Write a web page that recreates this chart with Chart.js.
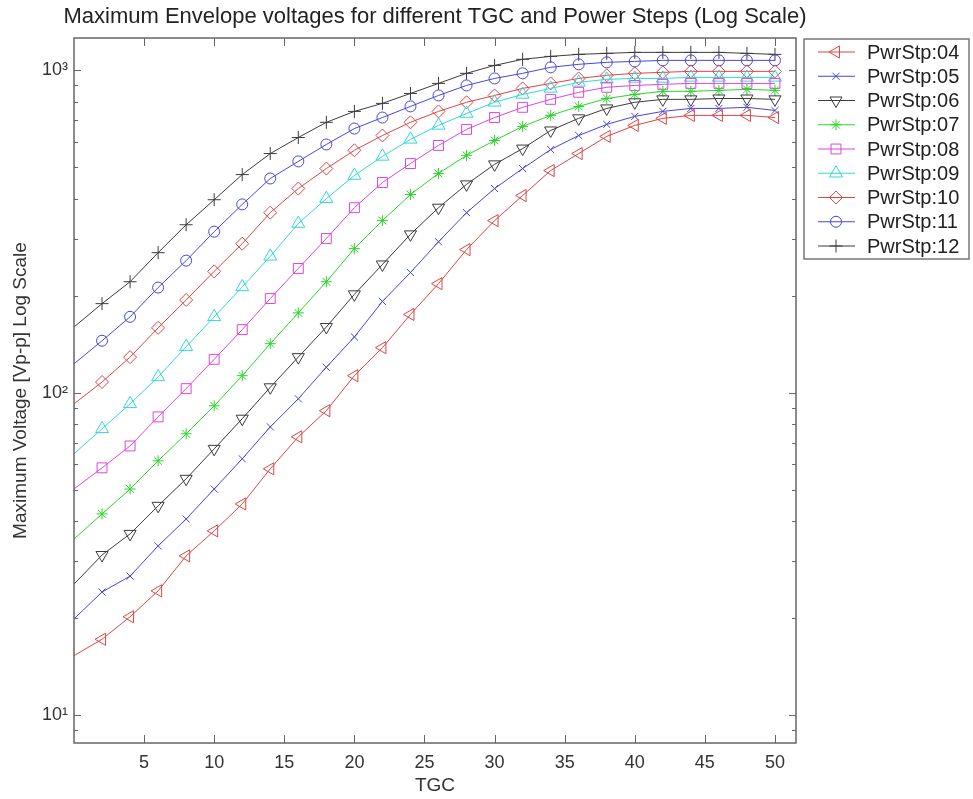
<!DOCTYPE html>
<html>
<head>
<meta charset="utf-8">
<script src="https://cdn.jsdelivr.net/npm/chart.js@4/dist/chart.umd.min.js"></script>
<style>
  html, body { margin: 0; padding: 0; background: #fff; }
  #wrap { width: 973px; height: 799px; }
</style>
</head>
<body>
<div id="wrap"><canvas id="myChart" width="973" height="799"></canvas></div>
<script>
let chartTitle = "Maximum Envelope voltages for different TGC and Power Steps (Log Scale)";
let xTitle = "TGC";
let yTitle = "Maximum Voltage [Vp-p] Log Scale";

let tgc = [0, 2, 4, 6, 8, 10, 12, 14, 16, 18, 20, 22, 24, 26, 28, 30, 32, 34, 36, 38, 40, 42, 44, 46, 48, 50];
let seriesNames = ["PwrStp:04", "PwrStp:05", "PwrStp:06", "PwrStp:07", "PwrStp:08", "PwrStp:09", "PwrStp:10", "PwrStp:11", "PwrStp:12"];

let pwr04 = [15.3, 17.2, 20.2, 24.3, 31.2, 37.3, 45.2, 58.1, 73.0, 88.0, 113, 138, 175, 218, 278, 342, 409, 489, 552, 624, 675, 710, 725, 725, 725, 714];
let pwr05 = [19.9, 24.1, 27.0, 33.5, 40.6, 50.3, 62.4, 78.4, 95.8, 120, 149, 192, 236, 294, 362, 430, 496, 568, 628, 680, 720, 746, 762, 762, 768, 751];
let pwr06 = [25.5, 31.4, 36.5, 44.6, 54.1, 67.0, 83.1, 104, 129, 160, 202, 250, 310, 375, 443, 511, 572, 651, 710, 762, 796, 813, 813, 818, 818, 813];
let pwr07 = [35.2, 42.1, 50.3, 61.5, 74.6, 91.1, 113, 142, 177, 221, 280, 342, 412, 479, 545, 606, 670, 725, 773, 818, 842, 861, 861, 867, 873, 867];
let pwr08 = [50.3, 58.5, 68.4, 84.2, 103, 127, 157, 196, 243, 301, 375, 449, 514, 585, 656, 714, 768, 813, 855, 886, 898, 905, 911, 911, 911, 911];
let pwr09 = [64.7, 77.3, 92.4, 112, 139, 172, 213, 265, 335, 400, 472, 541, 611, 675, 735, 796, 842, 879, 918, 938, 944, 944, 951, 951, 951, 951];
let pwr10 = [92.4, 108, 129, 159, 194, 238, 290, 362, 430, 496, 565, 628, 690, 746, 796, 836, 879, 911, 944, 965, 979, 986, 993, 993, 993, 993];
let pwr11 = [123, 145, 172, 212, 257, 316, 384, 462, 522, 589, 660, 714, 773, 836, 898, 944, 979, 1022, 1044, 1059, 1066, 1074, 1074, 1074, 1074, 1074];
let pwr12 = [160, 189, 221, 272, 332, 397, 475, 552, 619, 690, 746, 790, 848, 911, 979, 1036, 1082, 1105, 1121, 1129, 1137, 1137, 1137, 1137, 1129, 1121];

let xTicks = [5, 10, 15, 20, 25, 30, 35, 40, 45, 50];
let yTicks = [9, 10, 20, 30, 40, 50, 60, 70, 80, 90, 100, 200, 300, 400, 500, 600, 700, 800, 900, 1000];
let yMajor = [10, 100, 1000];
let yLabels = ["10\u00B9", "10\u00B2", "10\u00B3"];

let colors = ["#dc4646", "#4646dc", "#3c3c3c", "#2ad62a", "#dc46dc", "#32d8d8", "#dc4646", "#4646dc", "#3c3c3c"];
let markers = ["triangle", "crossRot", "triangle", "star", "rect", "triangle", "rectRot", "circle", "cross"];
let markerRotation = [270, 0, 180, 0, 0, 0, 0, 0, 0];
let markerRadius = [7, 5, 7, 5.5, 7, 7.5, 6.5, 5.5, 6.5];

const FONT = "'Liberation Sans', Arial, sans-serif";
Chart.defaults.font.family = FONT;
Chart.defaults.color = "#333";

let allSeries = [pwr04, pwr05, pwr06, pwr07, pwr08, pwr09, pwr10, pwr11, pwr12];

const datasets = allSeries.map(function (vals, i) {
    return {
        label: seriesNames[i],
        data: tgc.map((x, j) => ({ x: x, y: vals[j] })),
        borderColor: colors[i],
        backgroundColor: "rgba(0,0,0,0)",
        borderWidth: 1,
        tension: 0,
        pointStyle: markers[i],
        pointRotation: markerRotation[i],
        pointRadius: ctx => (ctx.raw && ctx.raw.x === 0 ? 0 : markerRadius[i]),
        pointBorderWidth: 1,
        pointBorderColor: colors[i],
        pointBackgroundColor: "rgba(0,0,0,0)"
    };
});

// frame, inward ticks, title and legend drawn like the matlab figure
const decoration = {
    id: "decoration",
    beforeDraw(chart) {
        const ctx = chart.ctx;
        ctx.save();
        ctx.fillStyle = "#fff";
        ctx.fillRect(0, 0, chart.width, chart.height);
        ctx.restore();
    },
    afterDraw(chart) {
        const ctx = chart.ctx;
        const a = chart.chartArea;
        const x = chart.scales.x;
        const y = chart.scales.y;
        ctx.save();

        ctx.strokeStyle = "#666";
        ctx.lineWidth = 1;
        ctx.beginPath();
        for (const v of xTicks) {
            const px = Math.round(x.getPixelForValue(v)) + 0.5;
            ctx.moveTo(px, a.bottom); ctx.lineTo(px, a.bottom - 8);
            ctx.moveTo(px, a.top); ctx.lineTo(px, a.top + 8);
        }
        for (const v of yTicks) {
            const py = Math.round(y.getPixelForValue(v)) + 0.5;
            const len = yMajor.includes(v) ? 7 : 4;
            ctx.moveTo(a.left, py); ctx.lineTo(a.left + len, py);
            ctx.moveTo(a.right, py); ctx.lineTo(a.right - len, py);
        }
        ctx.stroke();

        ctx.lineWidth = 1.5;
        ctx.strokeRect(a.left, a.top, a.right - a.left, a.bottom - a.top);

        ctx.fillStyle = "#222";
        ctx.font = "22px " + FONT;
        ctx.textAlign = "center";
        ctx.textBaseline = "middle";
        ctx.fillText(chartTitle, (a.left + a.right) / 2, 17);

        // legend
        const lx = a.right + 8;
        const ly = a.top + 1;
        const lw = 165;
        const step = 24.25;
        ctx.strokeStyle = "#777";
        ctx.lineWidth = 1.5;
        ctx.strokeRect(lx, ly, lw, 13 + step * (seriesNames.length - 1) + 13);
        ctx.font = "20px " + FONT;
        ctx.textAlign = "left";
        for (let i = 0; i < seriesNames.length; i++) {
            const ey = ly + 13 + step * i;
            ctx.strokeStyle = colors[i];
            ctx.lineWidth = 1;
            ctx.beginPath();
            ctx.moveTo(lx + 14, ey); ctx.lineTo(lx + 51, ey);
            ctx.stroke();
            ctx.fillStyle = "rgba(0,0,0,0)";
            Chart.helpers.drawPoint(ctx, {
                pointStyle: markers[i],
                rotation: markerRotation[i],
                radius: markerRadius[i],
                borderWidth: 1
            }, lx + 32, ey);
            ctx.fillStyle = "#222";
            ctx.fillText(seriesNames[i], lx + 63, ey + 1);
        }
        ctx.restore();
    }
};

const conf = {
    type: "line",
    data: { datasets },
    options: {
        responsive: false,
        animation: false,
        events: [],
        layout: { padding: { top: 38, right: 177, left: 0, bottom: 0 } },
        plugins: {
            legend: { display: false },
            title: { display: false },
            tooltip: { enabled: false }
        },
        scales: {
            x: {
                type: "linear",
                min: 0,
                max: 51.5,
                afterBuildTicks: s => { s.ticks = xTicks.map(v => ({ value: v })); },
                afterFit: s => { s.height = 56; },
                grid: { display: false, drawTicks: false },
                border: { display: false },
                ticks: { font: { size: 18 }, color: "#333", padding: 9, maxRotation: 0, autoSkip: false },
                title: { display: true, text: xTitle, font: { size: 19 }, color: "#333", padding: { top: 0, bottom: 2 } }
            },
            y: {
                type: "logarithmic",
                min: 8.2,
                max: 1260,
                afterBuildTicks: s => { s.ticks = yTicks.map(v => ({ value: v })); },
                afterFit: s => { s.width = 74; },
                grid: { display: false, drawTicks: false },
                border: { display: false },
                ticks: {
                    font: { size: 18 },
                    color: "#333",
                    padding: 6,
                    autoSkip: false,
                    callback: function (v) {
                        let k = yMajor.indexOf(v);
                        return k >= 0 ? yLabels[k] : "";
                    }
                },
                title: { display: true, text: yTitle, font: { size: 19 }, color: "#333", padding: { top: 9, bottom: 0 } }
            }
        }
    },
    plugins: [decoration]
};

let grafico = new Chart(document.querySelector("#myChart"), conf);
</script>
</body>
</html>
